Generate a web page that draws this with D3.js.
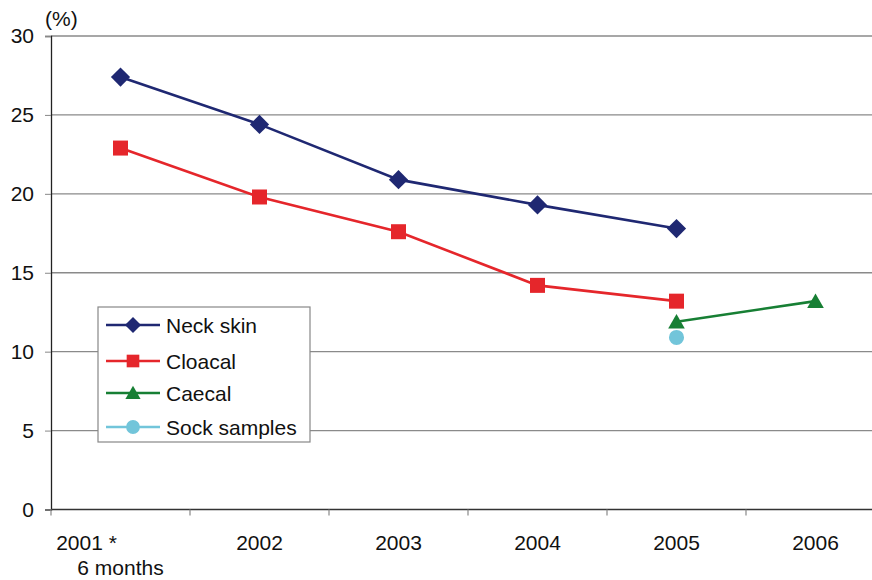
<!DOCTYPE html>
<html>
<head>
<meta charset="utf-8">
<script src="https://cdn.jsdelivr.net/npm/d3@7"></script>
<style>
  body { margin: 0; background: #fff; }
  svg { display: block; font-family: "Liberation Sans", Arial, sans-serif; }
</style>
</head>
<body>
<div id="chart"></div>
<script>
const years = ['2001', '2002', '2003', '2004', '2005', '2006']
const yearLabels = [['2001 *', '6 months'], ['2002'], ['2003'], ['2004'], ['2005'], ['2006']]
const yTicks = [0, 5, 10, 15, 20, 25, 30]

const neckSkin = [27.4, 24.4, 20.9, 19.3, 17.8, null]
const cloacal = [22.9, 19.8, 17.6, 14.2, 13.2, null]
const caecal = [null, null, null, null, 11.9, 13.2]
const sockSamples = [null, null, null, null, 10.9, null]

const series = [
  { name: 'Neck skin', values: neckSkin, color: '#1f2872', symbol: d3.symbolDiamond2, size: 235, lsize: 165 },
  { name: 'Cloacal', values: cloacal, color: '#e5262b', symbol: d3.symbolSquare, size: 225, lsize: 160 },
  { name: 'Caecal', values: caecal, color: '#177f34', symbol: d3.symbolTriangle, size: 120, lsize: 100 },
  { name: 'Sock samples', values: sockSamples, color: '#72c5da', symbol: d3.symbolCircle, size: 180, lsize: 150 }
]

const W = 872, H = 580
const FS = 21
const svg = d3.select('#chart').append('svg').attr('width', W).attr('height', H)

const x = d3.scaleBand().domain(years).range([51, 885])
const y = d3.scaleLinear().domain([0, 30]).range([509.5, 36])

// gridlines
svg.append('g')
  .selectAll('line')
  .data(yTicks.filter(d => d > 0))
  .join('line')
  .attr('x1', 51).attr('x2', W)
  .attr('y1', d => y(d)).attr('y2', d => y(d))
  .attr('stroke', '#8a8a8a').attr('stroke-width', 1.3)

// y axis
const yAxis = svg.append('g').attr('transform', 'translate(51,0)')
  .call(d3.axisLeft(y).tickValues(yTicks).tickSize(6).tickPadding(11))
yAxis.select('.domain').attr('stroke', '#222').attr('stroke-width', 1.3)
yAxis.selectAll('.tick line').attr('stroke', '#888')
yAxis.selectAll('.tick text').attr('font-size', FS).attr('fill', '#111')
  .attr('font-family', '"Liberation Sans", Arial, sans-serif')

// x axis with ticks at band boundaries
svg.append('line')
  .attr('x1', 51).attr('x2', W).attr('y1', y(0)).attr('y2', y(0))
  .attr('stroke', '#333').attr('stroke-width', 1.3)
svg.append('g')
  .selectAll('line')
  .data(years)
  .join('line')
  .attr('x1', d => x(d)).attr('x2', d => x(d))
  .attr('y1', y(0)).attr('y2', y(0) + 6)
  .attr('stroke', '#888').attr('stroke-width', 1.2)

const xl = svg.append('g')
  .selectAll('text')
  .data(years)
  .join('text')
  .attr('font-size', FS).attr('fill', '#111')
  .attr('text-anchor', 'middle')
xl.each(function (d, i) {
  const cx = x(d) + x.bandwidth() / 2
  yearLabels[i].forEach((line, j) => {
    d3.select(this).append('tspan')
      .attr('x', j === 0 && yearLabels[i].length > 1 ? cx - 34 : cx)
      .attr('y', 550 + j * 25)
      .text(line)
  })
})

// unit label
svg.append('text').attr('x', 45).attr('y', 26)
  .attr('font-size', FS).attr('fill', '#111').text('(%)')

// lines and markers
const cx = d => x(d) + x.bandwidth() / 2
const line = d3.line()
  .defined(d => d.v != null)
  .x(d => cx(d.year))
  .y(d => y(d.v))

series.forEach(s => {
  const pts = years.map((year, i) => ({ year, v: s.values[i] }))
  svg.append('path')
    .datum(pts)
    .attr('d', line)
    .attr('fill', 'none')
    .attr('stroke', s.color)
    .attr('stroke-width', 2.6)
  svg.append('g')
    .selectAll('path')
    .data(pts.filter(d => d.v != null))
    .join('path')
    .attr('transform', d => `translate(${cx(d.year)},${y(d.v) + (s.symbol === d3.symbolTriangle ? 2 : 0)})`)
    .attr('d', d3.symbol(s.symbol, s.size))
    .attr('fill', s.color)
})

// legend
const lg = svg.append('g').attr('transform', 'translate(98,307)')
lg.append('rect')
  .attr('width', 212).attr('height', 135)
  .attr('fill', '#fff').attr('stroke', '#888').attr('stroke-width', 1.2)
const rowY = [18, 54, 86, 120]
series.forEach((s, i) => {
  const g = lg.append('g').attr('transform', `translate(0,${rowY[i]})`)
  g.append('line').attr('x1', 8).attr('x2', 62)
    .attr('stroke', s.color).attr('stroke-width', 2.6)
  g.append('path')
    .attr('transform', `translate(35,${s.symbol === d3.symbolTriangle ? 1.5 : 0})`)
    .attr('d', d3.symbol(s.symbol, s.lsize))
    .attr('fill', s.color)
  g.append('text').attr('x', 68).attr('y', 7.5)
    .attr('font-size', FS).attr('fill', '#111').text(s.name)
})
</script>
</body>
</html>
